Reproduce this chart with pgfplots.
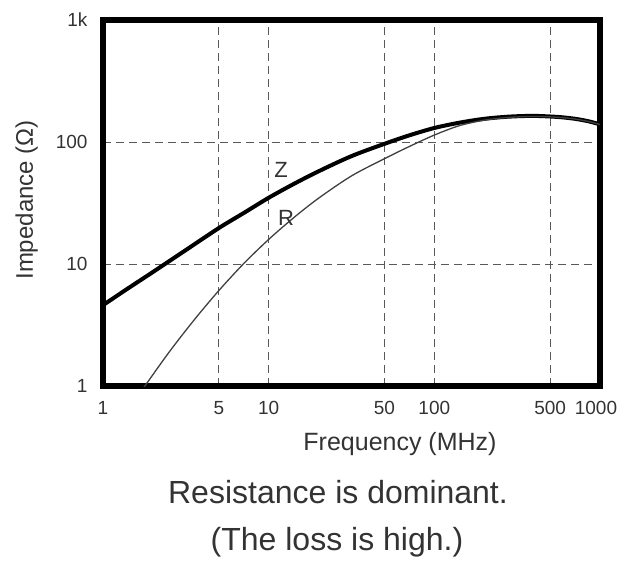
\documentclass[border=0pt]{standalone}
\usepackage{fontspec}
\setmainfont{Liberation Sans}
\usepackage{pgfplots}
\pgfplotsset{compat=1.18}

% Z and R curves (frequency in MHz, impedance in ohm)
\pgfplotstableread{
f      z
1      4.60
1.413  6.30
2      8.59
3      12.4
5      19.7
7.08   26.2
10     34.9
14.13  45.2
20     57.5
31.6   76.6
50     96.6
70.8   113.5
100    130.3
141.3  143.9
200    154.9
281.8  161.4
398    163.7
562    160.3
708    154.9
851    147.9
1000   139.6
}\zdata
\pgfplotstableread{
f      r
1.585  0.79
1.79   1.0
2.51   1.90
3.55   3.48
5      6.05
7.08   10.1
10     15.9
14.13  23.9
20     34.6
31.6   52.7
50     73
70.8   92
100    114
141.3  136
200    151
281.8  159
398    162
562    159.3
708    154.2
851    147.4
1000   139.2
}\rdata

\definecolor{txt}{HTML}{333333}

\begin{document}
\begin{tikzpicture}
\useasboundingbox (-103pt,-176pt) rectangle (518pt,386pt);
\begin{axis}[
  at={(0pt,0pt)}, anchor=south west,
  scale only axis, width=497pt, height=366pt,
  xmode=log, ymode=log,
  xmin=1, xmax=1000, ymin=1, ymax=1000,
  xtick={1,5,10,50,100,500,1000},
  xticklabels={1,5,10,50,100,500,\makebox[0pt]{1000\hspace{8pt}}},
  ytick={1,10,100,1000},
  yticklabels={1,10,100,1k},
  minor tick num=0, minor xtick={}, minor ytick={},
  major tick length=0pt,
  grid=major,
  major grid style={dash pattern=on 8pt off 5pt, line width=0.9pt, black!65},
  axis line style={line width=6pt},
  ticklabel style={font=\fontsize{19}{19}\selectfont, text=txt},
  xticklabel style={yshift=-12pt},
  yticklabel style={xshift=-12pt},
  /pgf/number format/assume math mode=true,
  clip=true,
]
\addplot[black, line width=4pt, smooth] table[x=f, y=z] {\zdata};
\addplot[black!75, line width=1.3pt, smooth] table[x=f, y=r] {\rdata};
\end{axis}
\node[anchor=base, text=txt, font=\fontsize{22}{22}\selectfont] at (178pt,208pt) {Z};
\node[anchor=base, text=txt, font=\fontsize{22}{22}\selectfont] at (183pt,160pt) {R};
\node[anchor=base, text=txt, font=\fontsize{25}{25}\selectfont] at (297pt,-64pt) {Frequency (MHz)};
\node[anchor=base, rotate=90, text=txt, font=\fontsize{24}{24}\selectfont] at (-70pt,186pt) {Impedance (Ω)};
\node[anchor=base, text=txt, font=\fontsize{32}{32}\selectfont] at (235pt,-117pt) {Resistance is dominant.};
\node[anchor=base, text=txt, font=\fontsize{32}{32}\selectfont] at (234pt,-164pt) {(The loss is high.)};
\end{tikzpicture}
\end{document}
